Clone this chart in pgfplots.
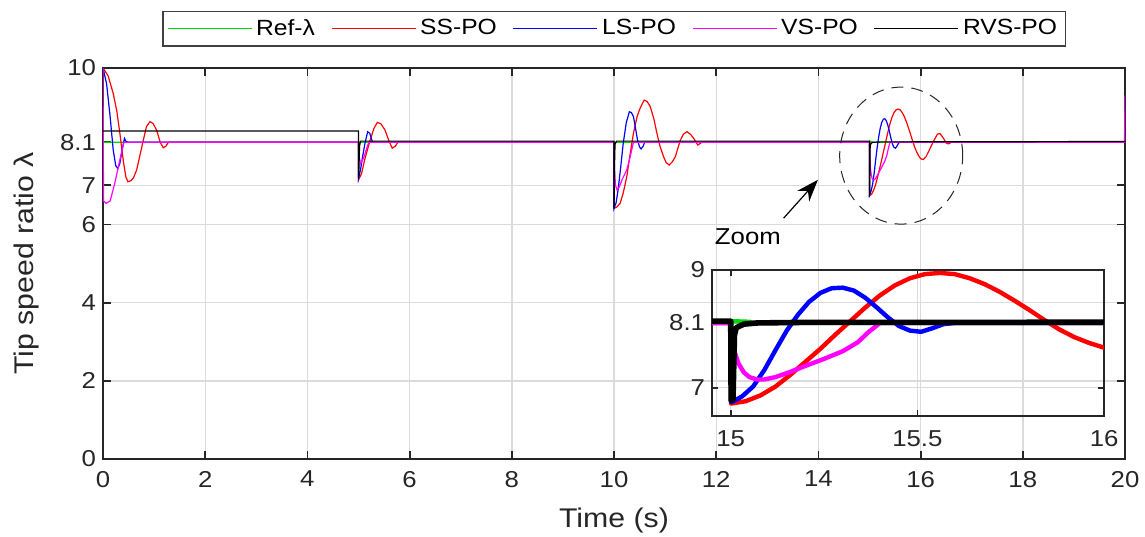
\documentclass[border=0pt]{standalone}
\usepackage{fontspec}
\setmainfont{Liberation Sans}[FakeStretch=1.12]
\usepackage{pgfplots}
\pgfplotsset{compat=1.18}
\usepackage{pgfplotstable}
\usetikzlibrary{arrows.meta}
\definecolor{mgt}{rgb}{1,0,1}
\definecolor{grn}{rgb}{0,0.85,0}

% Ref-lambda
\pgfplotstableread{
t v
0 8.1
15 8.1
15.002 8.13
15.05 8.12
15.06 8.1
20 8.1
}\refl

% SS-PO
\pgfplotstableread{
t v
0 10
0.1 9.8
0.2 9.35
0.27 8.9
0.33 8.33
0.4 7.6
0.45 7.2
0.49 7.09
0.55 7.12
0.6 7.2
0.66 7.4
0.72 7.75
0.79 8.16
0.85 8.5
0.92 8.63
0.98 8.58
1.05 8.41
1.12 8.1
1.18 7.96
1.23 8.0
1.28 8.1
5.0 8.1
5.001 7.14
5.06 7.3
5.12 7.65
5.22 8.12
5.3 8.45
5.37 8.61
5.44 8.57
5.52 8.41
5.6 8.12
5.66 7.95
5.72 8.0
5.77 8.1
10.0 8.1
10.001 6.41
10.06 6.45
10.12 6.54
10.18 6.8
10.25 7.22
10.31 7.75
10.38 8.33
10.45 8.75
10.51 8.97
10.59 9.18
10.65 9.14
10.71 9.01
10.78 8.7
10.84 8.33
10.9 8.0
10.97 7.73
11.02 7.58
11.08 7.52
11.14 7.6
11.2 7.73
11.25 7.95
11.3 8.16
11.36 8.31
11.43 8.37
11.5 8.3
11.56 8.2
11.64 8.03
11.72 8.1
15.0 8.1
15.001 6.73
15.04 6.77
15.08 6.87
15.12 7.02
15.16 7.22
15.20 7.44
15.24 7.66
15.28 7.90
15.32 8.13
15.36 8.36
15.40 8.57
15.44 8.74
15.48 8.86
15.52 8.93
15.56 8.95
15.60 8.93
15.64 8.86
15.68 8.76
15.72 8.63
15.76 8.48
15.80 8.32
15.84 8.15
15.88 7.99
15.92 7.86
15.96 7.76
16.00 7.68
16.05 7.66
16.1 7.72
16.17 7.9
16.25 8.12
16.33 8.31
16.38 8.32
16.44 8.22
16.5 8.08
16.55 8.06
16.6 8.1
20 8.1
}\sspo

% LS-PO
\pgfplotstableread{
t v
0 10
0.07 9.6
0.14 8.75
0.2 7.9
0.25 7.5
0.29 7.43
0.33 7.56
0.38 7.95
0.42 8.2
0.45 8.12
0.5 8.1
5.0 8.1
5.001 7.18
5.04 7.4
5.08 7.73
5.13 8.1
5.18 8.37
5.22 8.33
5.27 8.12
5.3 8.1
10.0 8.1
10.001 6.41
10.04 6.55
10.08 6.88
10.13 7.45
10.18 8.07
10.24 8.6
10.3 8.88
10.34 8.86
10.38 8.76
10.42 8.47
10.46 8.16
10.5 7.98
10.53 7.93
10.57 8.0
10.6 8.1
15.0 8.1
15.001 6.75
15.03 6.85
15.06 7.02
15.09 7.30
15.12 7.64
15.15 7.97
15.18 8.24
15.21 8.46
15.24 8.61
15.27 8.69
15.30 8.70
15.33 8.65
15.36 8.53
15.39 8.37
15.42 8.20
15.45 8.05
15.48 7.97
15.51 7.95
15.54 8.01
15.57 8.08
15.60 8.10
20 8.1
}\lspo

% VS-PO
\pgfplotstableread{
t v
0 10
0.01 6.6
0.06 6.54
0.14 6.6
0.23 7.05
0.33 7.65
0.41 8.1
5.0 8.1
5.005 7.8
5.04 7.55
5.1 7.7
5.2 8.1
10.0 8.1
10.01 7.4
10.03 7.0
10.06 6.88
10.1 6.95
10.17 7.18
10.25 7.39
10.32 7.75
10.38 8.1
15.000 8.10
15.004 7.85
15.010 7.62
15.020 7.42
15.035 7.26
15.05 7.18
15.07 7.14
15.09 7.14
15.12 7.18
15.16 7.27
15.20 7.37
15.25 7.49
15.30 7.62
15.34 7.77
15.37 7.95
15.40 8.10
19.99 8.1
20 9.3
}\vspo

% RVS-PO
\pgfplotstableread{
t v
0 8.39
5.0 8.39
5.001 7.18
5.01 7.5
5.02 8.0
5.04 8.13
10.0 8.13
10.001 6.41
10.01 7.5
10.02 8.05
10.05 8.13
15.0 8.13
15.001 6.78
15.006 6.8
15.010 7.9
15.015 8.02
15.035 8.08
15.07 8.1
15.2 8.11
20 8.12
}\rvspo

\pgfplotsset{
  mstyle/.style={
    scale only axis,
    grid=major,
    grid style={black!14, line width=0.7pt},
    tick align=inside,
    major tick length=4pt,
    axis line style={line width=0.9pt, black!85},
    every tick/.style={black!85, line width=0.9pt},
    /pgf/number format/assume math mode=true,
    tick label style={font=\fontsize{11.5}{13}\selectfont, text=black!85},
  },
}

\begin{document}
\begin{tikzpicture}
\useasboundingbox (0,0) rectangle (572.5pt,268pt);
\begin{axis}[
  mstyle,
  at={(51.5pt,38.5pt)}, anchor=south west,
  width=511pt, height=195.5pt,
  xmin=0, xmax=20, ymin=0, ymax=10,
  xtick={0,2,...,20},
  ytick={0,2,4,6,7,8.1,10},
  xticklabel style={yshift=-2.5pt},
  xlabel={Time (s)},
  ylabel={Tip speed ratio λ},
  label style={font=\fontsize{13.5}{15}\selectfont, text=black!85},
  xlabel style={at={(axis description cs:0.5,-0.158)}, anchor=center},
  ylabel style={at={(axis description cs:-0.0744,0.5)}, anchor=center},
  legend columns=5,
  legend style={at={(0.5,1.0545)}, anchor=south, draw=black!75, line width=0.6pt,
    font=\fontsize{11}{13}\selectfont, inner sep=2pt,
    /tikz/every even column/.append style={column sep=6pt}},
  legend image code/.code={\draw[#1] (0pt,0pt) -- (42pt,0pt);},
]
\addplot[grn, line width=0.6pt] table[x=t, y=v] {\refl};
\addplot[red, line width=0.6pt] table[x=t, y=v] {\sspo};
\addplot[blue, line width=0.6pt] table[x=t, y=v] {\lspo};
\addplot[mgt, line width=0.6pt] table[x=t, y=v] {\vspo};
\addplot[black, line width=0.6pt] table[x=t, y=v] {\rvspo};
\legend{Ref-λ, SS-PO, LS-PO, VS-PO, RVS-PO}
\draw[black!85, line width=0.5pt, dash pattern=on 6pt off 4pt]
  (axis cs:15.62,7.76) ellipse [x radius=30.75pt, y radius=34.25pt];
\draw[-{Stealth[length=11pt, width=8pt]}, line width=0.6pt]
  (axis cs:13.32,6.16) -- (axis cs:13.99,7.14);
\node[font=\fontsize{11.5}{13}\selectfont] at (axis cs:12.62,5.68) {Zoom};
\end{axis}

\begin{axis}[
  mstyle,
  at={(356pt,60.15pt)}, anchor=south west,
  width=196pt, height=72.85pt,
  xmin=14.95, xmax=16, ymin=6.524, ymax=9,
  xtick={15,15.5,16},
  ytick={7,8.1,9},
  xticklabel style={yshift=-4pt},
  major tick length=3pt,
  every axis plot/.append style={line join=round},
]
\addplot[grn, line width=2.2pt] table[x=t, y=v] {\refl};
\addplot[red, line width=2.2pt] table[x=t, y=v] {\sspo};
\addplot[blue, line width=2.2pt] table[x=t, y=v] {\lspo};
\addplot[mgt, line width=2.2pt] table[x=t, y=v] {\vspo};
\addplot[black, line width=2.8pt] table[x=t, y=v] {\rvspo};
\end{axis}
\end{tikzpicture}
\end{document}
